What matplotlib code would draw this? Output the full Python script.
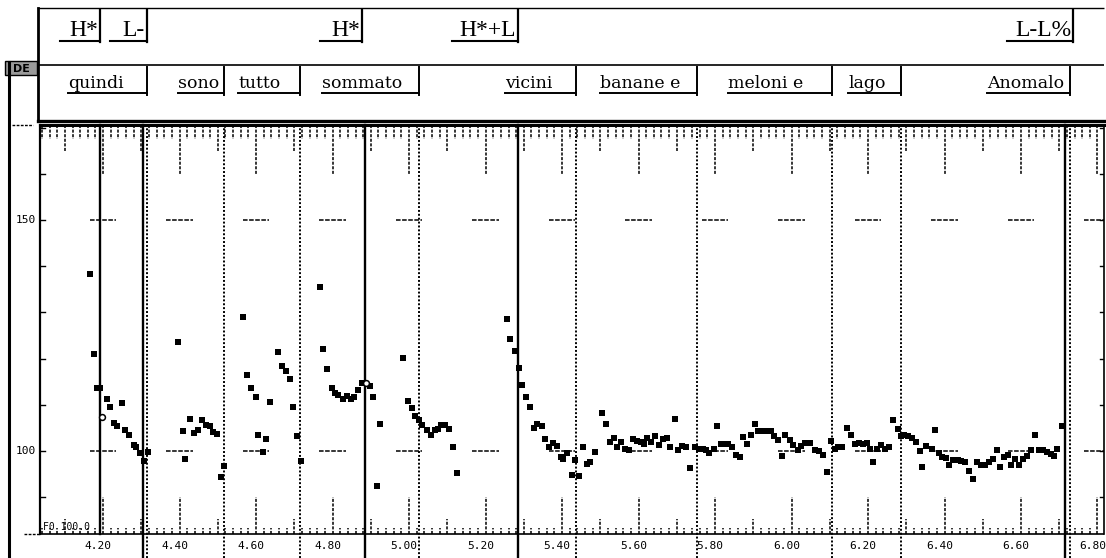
import numpy as np
import matplotlib.pyplot as plt
from matplotlib.patches import Rectangle
from matplotlib.transforms import blended_transform_factory, offset_copy

# F0 track (time s, Hz), one list per word stretch
t_quindi = [4.166, 4.177, 4.184, 4.192, 4.211, 4.218, 4.229, 4.237, 4.249, 4.258,
            4.269, 4.280, 4.287, 4.297, 4.307, 4.318]
f_quindi = [138.3, 121.0, 113.6, 113.6, 111.3, 109.6, 106.1, 105.3, 110.3, 104.5,
            103.5, 101.2, 100.8, 99.6, 97.9, 99.8]

t_sono = [4.397, 4.408, 4.415, 4.427, 4.438, 4.447, 4.459, 4.469, 4.480, 4.487,
          4.497, 4.507, 4.516]
f_sono = [123.7, 104.4, 98.2, 106.9, 103.8, 104.5, 106.7, 105.6, 105.5, 104.0,
          103.6, 94.4, 96.8]

t_tutto = [4.565, 4.576, 4.588, 4.599, 4.606, 4.618, 4.626, 4.637, 4.657, 4.667,
           4.677, 4.688, 4.697, 4.706, 4.717]
f_tutto = [129.1, 116.4, 113.6, 111.6, 103.5, 99.8, 102.5, 110.7, 121.4, 118.5,
           117.4, 115.6, 109.6, 103.3, 97.9]

t_sommato = [4.767, 4.776, 4.786, 4.798, 4.806, 4.815, 4.827, 4.837, 4.848, 4.857,
             4.867, 4.876, 4.898, 4.905, 4.916, 4.925, 4.985, 4.996, 5.008, 5.015,
             5.025, 5.034, 5.046, 5.057, 5.067, 5.076, 5.084, 5.095, 5.105, 5.114,
             5.126]
f_sommato = [135.6, 122.1, 117.8, 113.6, 112.5, 112.1, 111.3, 111.8, 111.3, 111.6,
             113.2, 114.7, 114.1, 111.6, 92.3, 105.8, 120.1, 110.8, 109.3, 107.6,
             106.6, 105.6, 104.5, 103.5, 104.5, 104.7, 105.6, 105.6, 104.8, 100.9,
             95.3]

t_rest = [5.255, 5.264, 5.276, 5.287, 5.295, 5.306, 5.316, 5.326, 5.334, 5.347,
          5.356, 5.365, 5.377, 5.386, 5.398, 5.403, 5.414, 5.425, 5.434, 5.445,
          5.454, 5.465, 5.473, 5.486, 5.505, 5.515, 5.526, 5.536, 5.543, 5.555,
          5.565, 5.574, 5.585, 5.595, 5.606, 5.614, 5.623, 5.632, 5.644, 5.653,
          5.665, 5.675, 5.682, 5.695, 5.703, 5.714, 5.724, 5.735, 5.747, 5.757,
          5.768, 5.777, 5.785, 5.796, 5.806, 5.815, 5.825, 5.834, 5.844, 5.855,
          5.864, 5.874, 5.883, 5.893, 5.905, 5.912, 5.926, 5.937, 5.947, 5.954,
          5.965, 5.975, 5.984, 5.996, 6.005, 6.017, 6.024, 6.035, 6.048, 6.061,
          6.071, 6.083, 6.094, 6.104, 6.113, 6.122, 6.132, 6.144, 6.156, 6.165,
          6.176, 6.188, 6.197, 6.205, 6.214, 6.224, 6.235, 6.244, 6.256, 6.266,
          6.278, 6.286, 6.294, 6.305, 6.315, 6.326, 6.336, 6.341, 6.352, 6.367,
          6.376, 6.385, 6.394, 6.404, 6.413, 6.423, 6.434, 6.444, 6.454, 6.465,
          6.475, 6.484, 6.495, 6.505, 6.516, 6.526, 6.537, 6.545, 6.556, 6.566,
          6.575, 6.585, 6.596, 6.606, 6.615, 6.625, 6.637, 6.646, 6.657, 6.667,
          6.678, 6.686, 6.695, 6.706]
f_rest = [128.5, 124.2, 121.7, 118.0, 114.2, 111.6, 109.6, 104.9, 105.8, 105.4,
          102.5, 100.8, 101.7, 101.1, 98.6, 98.2, 99.5, 94.8, 98.1, 94.6,
          100.9, 97.2, 97.6, 99.8, 108.2, 105.8, 102.0, 102.7, 100.8, 101.9,
          100.4, 100.1, 102.5, 102.1, 101.9, 101.5, 102.7, 101.9, 103.2, 101.2,
          102.5, 102.7, 100.9, 107.0, 100.1, 101.1, 100.9, 96.2, 100.8, 100.4,
          100.4, 100.1, 99.6, 100.4, 105.5, 101.5, 101.4, 101.4, 100.9, 99.1,
          98.6, 103.1, 101.5, 103.4, 105.8, 104.4, 104.4, 104.3, 104.4, 103.2,
          102.4, 98.9, 103.5, 102.4, 101.2, 100.2, 101.1, 101.8, 101.7, 100.1,
          99.9, 99.1, 95.5, 102.2, 100.5, 100.9, 100.9, 105.0, 103.4, 101.5,
          101.8, 101.5, 101.8, 100.4, 97.5, 100.4, 101.2, 100.5, 100.9, 106.7,
          104.8, 103.2, 103.4, 103.2, 102.7, 101.9, 99.9, 96.5, 101.1, 100.5,
          104.5, 99.5, 98.6, 98.5, 96.9, 98.1, 98.1, 97.8, 97.6, 95.7,
          94.0, 97.6, 96.9, 96.9, 97.6, 98.2, 100.1, 96.5, 98.6, 99.1,
          97.0, 98.2, 97.0, 98.2, 98.8, 100.1, 103.4, 100.2, 100.1, 99.8,
          99.4, 98.8, 100.5, 105.3]

# frames drawn as open circles
t_open = [4.198, 4.888]
f_open = [107.4, 114.7]

# segment boundaries (s)
solid_marks = [4.192, 4.305, 4.886, 5.285, 6.715]
dotted_marks = [4.315, 4.516, 4.715, 5.026, 5.437, 5.754, 6.106, 6.286, 6.728]

# tone tier: label, start, end
tones = ['H*', 'L-', 'H*', 'H*+L', 'L-L%']
tone_start = [4.088, 4.218, 4.767, 5.112, 6.563]
tone_end = [4.192, 4.315, 4.877, 5.285, 6.736]

# word tier: label, start, end
words = ['quindi', 'sono', 'tutto', 'sommato', 'vicini', 'banane e',
         'meloni e', 'lago', 'Anomalo']
word_start = [4.108, 4.396, 4.553, 4.773, 5.251, 5.499, 5.834, 6.148, 6.511]
word_end = [4.315, 4.516, 4.715, 5.026, 5.437, 5.754, 6.106, 6.286, 6.728]

time_labels = ['4.20', '4.40', '4.60', '4.80', '5.00', '5.20', '5.40',
               '5.60', '5.80', '6.00', '6.20', '6.40', '6.60', '6.80']

W, H = 1106, 558
XMIN, XMAX = 4.035, 6.817

fig = plt.figure(figsize=(W / 100, H / 100), dpi=100)

# ---- pitch panel ----
ax = fig.add_axes([40 / W, 1 - 534 / H, (1104 - 40) / W, (534 - 125) / H])
ax.set_xlim(XMIN, XMAX)
ax.set_ylim(82.0, 170.6)
ax.set_xticks([])
ax.set_yticks([])
ax.spines['top'].set_linewidth(2.2)
ax.spines['left'].set_linewidth(1.6)
ax.spines['left'].set_linestyle((0, (3, 1)))
ax.spines['bottom'].set_linewidth(1.2)
ax.spines['bottom'].set_linestyle((0, (2, 1)))
ax.spines['right'].set_linewidth(1.2)
ax.spines['right'].set_linestyle((0, (2, 1)))

ph = 534 - 125  # axes height in px
tr = blended_transform_factory(ax.transData, ax.transAxes)
tr_y = blended_transform_factory(ax.transAxes, ax.transData)

# time rulers along top and bottom
ticks = np.round(np.arange(4.04, 6.82, 0.02), 2)
for t in ticks:
    k = int(round(t * 100))
    if k % 20 == 0:
        lb, lt = 37, 50
    elif k % 10 == 0:
        lb, lt = 15, 27
    else:
        lb, lt = 6, 14
    ax.plot([t, t], [0, lb / ph], transform=tr, color='k', lw=1.1,
            ls=(0, (2, 1)), clip_on=False)
    ax.plot([t, t], [1, 1 - lt / ph], transform=tr, color='k', lw=1.1,
            ls=(0, (2, 1)), clip_on=False)

# F0 ticks on left and right
for v in range(90, 171, 10):
    ax.plot([0, 5 / 1064], [v, v], transform=tr_y, color='k', lw=1)
    ax.plot([1, 1 - 4 / 1064], [v, v], transform=tr_y, color='k', lw=1)

# short reference dashes at 100 and 150 Hz
for c in np.arange(4.0, 6.9, 0.2):
    ax.hlines([100, 150], c - 0.035, c + 0.035, colors='k', lw=1.1,
              linestyles=(0, (3, 1)))

# boundaries
for t in solid_marks:
    low = 0 if t < 4.2 else -24 / ph
    ax.axvline(t, ymin=low, ymax=1, color='k', lw=1.7, clip_on=False)
for t in dotted_marks:
    ax.axvline(t, ymin=-24 / ph, ymax=1, color='k', lw=1.4, ls=(0, (1, 1)),
               clip_on=False)

# F0 points
for tt, ff in [(t_quindi, f_quindi), (t_sono, f_sono), (t_tutto, f_tutto),
               (t_sommato, f_sommato), (t_rest, f_rest)]:
    ax.plot(tt, ff, 's', color='k', ms=4.6, mew=0, zorder=5)
ax.plot(t_open, f_open, 'o', mfc='white', mec='k', ms=4.2, mew=1.1, zorder=6)

# axis texts
mono = 'DejaVu Sans Mono'
for lab, t in zip(time_labels, np.arange(4.2, 6.81, 0.2)):
    ax.text(t - 0.013, -12 / ph, lab, transform=tr, ha='center', va='center',
            fontsize=8, family=mono)
ax.text(-4 / 1064, 150, '150', transform=tr_y, ha='right', va='center',
        fontsize=8, family=mono)
ax.text(-4 / 1064, 100, '100', transform=tr_y, ha='right', va='center',
        fontsize=8, family=mono)
ax.text(3 / 1064, 2 / ph, 'F0 100.0', transform=ax.transAxes, ha='left',
        va='bottom', fontsize=7, family=mono)

# ---- label panel ----
pax = fig.add_axes([38 / W, 1 - 121 / H, (1104 - 38) / W, (121 - 8) / H])
pax.set_xlim(XMIN - 2 / 382.5, XMAX)
pax.set_ylim(121, 8)
pax.set_xticks([])
pax.set_yticks([])
pax.spines['right'].set_visible(False)
pax.spines['left'].set_linewidth(2)
pax.spines['bottom'].set_linewidth(2.4)
pax.spines['top'].set_linewidth(1)
pax.spines['top'].set_linestyle((0, (2, 1)))
pax.axhline(65, color='k', lw=1.2)

shift = offset_copy(pax.transData, fig=fig, x=-2, y=0, units='dots')
for lab, t0, t1 in zip(tones, tone_start, tone_end):
    pax.plot([t0, t1], [41, 41], color='k', lw=1.5)
    pax.plot([t1, t1], [10, 42], color='k', lw=1.6)
    pax.text(t1, 36, lab, transform=shift, ha='right', va='baseline',
             fontsize=17, family='Liberation Serif')

for lab, t0, t1 in zip(words, word_start, word_end):
    pax.plot([t0, t1], [93, 93], color='k', lw=1.4)
    pax.plot([t1, t1], [67, 95], color='k', lw=1.4)
    pax.text(t0, 88, lab, ha='left', va='baseline', fontsize=12.5,
             family='DejaVu Serif')

# ---- window decorations ----
bg = fig.add_axes([0, 0, 1, 1])
bg.set_xlim(0, W)
bg.set_ylim(H, 0)
bg.axis('off')
bg.plot([9, 9], [62, H], color='k', lw=2.2)
bg.plot([12, 33], [125, 125], color='k', lw=1, ls=(0, (2, 1)))
bg.plot([24, 40], [534, 534], color='k', lw=1, ls=(0, (2, 1)))
bg.add_patch(Rectangle((5, 61), 32, 14, facecolor='#9a9a9a', edgecolor='k',
                       lw=1))
bg.text(21, 68.5, 'DE', ha='center', va='center', fontsize=8,
        fontweight='bold', family='DejaVu Sans')

fig.savefig('out.png', dpi=100)
